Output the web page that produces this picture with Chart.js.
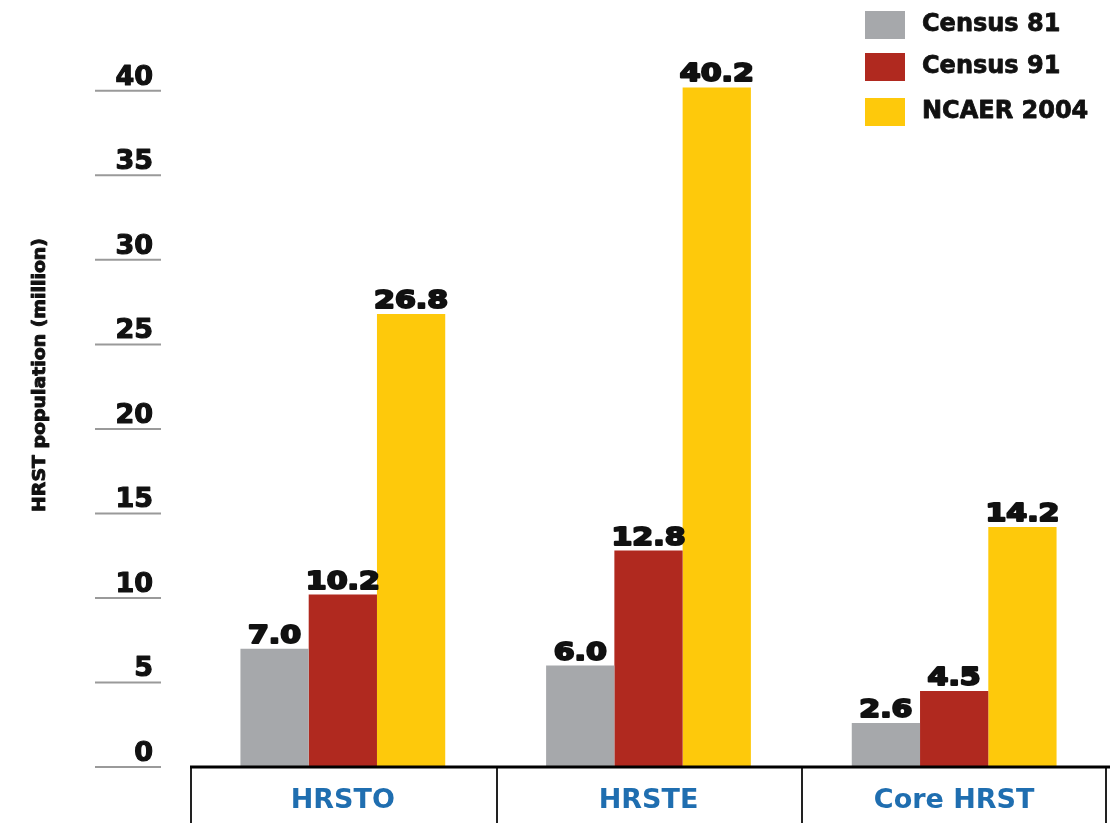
<!DOCTYPE html>
<html>
<head>
<meta charset="utf-8">
<script src="https://cdn.jsdelivr.net/npm/chart.js@4"></script>
<style>
html,body{margin:0;padding:0;background:#fff;}
canvas{display:block;}
</style>
</head>
<body>
<canvas id="c" width="1110" height="823"></canvas>
<script>
const categories = ["HRSTO", "HRSTE", "Core HRST"];
const seriesNames = ["Census 81", "Census 91", "NCAER 2004"];
const census81 = [7.0, 6.0, 2.6];
const census91 = [10.2, 12.8, 4.5];
const ncaer2004 = [26.8, 40.2, 14.2];
const yTicks = [0, 5, 10, 15, 20, 25, 30, 35, 40];
const yTitle = "HRST population (million)";
const colors = ["#a6a8ab", "#b0291f", "#fec90b"];

const FONT = "'DejaVu Sans', sans-serif";

function heavyText(ctx, text, x, y, w) {
  ctx.lineWidth = w;
  ctx.lineJoin = 'round';
  ctx.strokeStyle = ctx.fillStyle;
  ctx.strokeText(text, x, y);
  ctx.fillText(text, x, y);
}

const extras = {
  id: 'extras',
  afterDatasetsDraw(chart) {
    const ctx = chart.ctx;
    const area = chart.chartArea;
    const y = chart.scales.y;
    ctx.save();
    // y ticks with short lines
    yTicks.forEach(v => {
      const py = y.getPixelForValue(v);
      ctx.strokeStyle = '#9a9a9a';
      ctx.lineWidth = 2;
      ctx.beginPath();
      ctx.moveTo(95, py);
      ctx.lineTo(161, py);
      ctx.stroke();
      ctx.fillStyle = '#111';
      ctx.font = "bold 27px " + FONT;
      ctx.textAlign = 'right';
      ctx.textBaseline = 'alphabetic';
      heavyText(ctx, String(v), 153, py - 6, 1.2);
    });
    // y title
    ctx.save();
    ctx.translate(40, 375);
    ctx.rotate(-Math.PI / 2);
    ctx.font = "bold 21px 'DejaVu Sans Condensed', 'DejaVu Sans', sans-serif";
    ctx.fillStyle = '#111';
    ctx.textAlign = 'center';
    ctx.textBaseline = 'middle';
    ctx.scale(1.0, 0.85);
    heavyText(ctx, yTitle, 0, 0, 1);
    ctx.restore();

    // value labels
    chart.data.datasets.forEach((ds, di) => {
      const meta = chart.getDatasetMeta(di);
      meta.data.forEach((bar, i) => {
        const val = ds.data[i];
        ctx.save();
        ctx.translate(bar.x, bar.y - 6);
        ctx.scale(1.2, 1);
        ctx.font = "bold 25px " + FONT;
        ctx.fillStyle = '#111';
        ctx.textAlign = 'center';
        ctx.textBaseline = 'alphabetic';
        heavyText(ctx, val.toFixed(1), 0, 0, 2);
        ctx.restore();
      });
    });

    // category boxes
    const x = chart.scales.x;
    const base = y.getPixelForValue(0);
    const n = categories.length;
    const step = (area.right - area.left) / n;
    ctx.strokeStyle = '#222';
    ctx.lineWidth = 2;
    for (let i = 0; i <= n; i++) {
      const px = Math.round(area.left + step * i) + (i === n ? -1 : 1);
      ctx.beginPath();
      ctx.moveTo(px, base);
      ctx.lineTo(px, 823);
      ctx.stroke();
    }
    ctx.strokeStyle = '#000';
    ctx.lineWidth = 3;
    ctx.beginPath();
    ctx.moveTo(area.left, base);
    ctx.lineTo(1110, base);
    ctx.stroke();
    ctx.fillStyle = '#1f6eb0';
    ctx.font = "bold 27px " + FONT;
    ctx.textAlign = 'center';
    ctx.textBaseline = 'alphabetic';
    categories.forEach((c, i) => {
      ctx.fillText(c, x.getPixelForValue(i), 808);
    });

    // legend
    const rowsY = [11, 53, 98];
    chart.data.datasets.forEach((ds, di) => {
      ctx.fillStyle = ds.backgroundColor;
      ctx.fillRect(865, rowsY[di], 40, 28);
      ctx.fillStyle = '#111';
      ctx.font = "bold 24px " + FONT;
      ctx.textAlign = 'left';
      ctx.textBaseline = 'middle';
      heavyText(ctx, ds.label, 922, rowsY[di] + 14, 0.8);
    });
    ctx.restore();
  }
};

new Chart(document.getElementById('c'), {
  type: 'bar',
  data: {
    labels: categories,
    datasets: [
      { label: seriesNames[0], data: census81, backgroundColor: colors[0] },
      { label: seriesNames[1], data: census91, backgroundColor: colors[1] },
      { label: seriesNames[2], data: ncaer2004, backgroundColor: colors[2] }
    ]
  },
  options: {
    responsive: false,
    animation: false,
    layout: { padding: { left: 190, right: 3, top: 57, bottom: 56 } },
    datasets: { bar: { categoryPercentage: 0.67, barPercentage: 1.0 } },
    plugins: { legend: { display: false }, tooltip: { enabled: false } },
    scales: {
      x: { display: false },
      y: { display: false, min: 0, max: 42 }
    }
  },
  plugins: [extras]
});
</script>
</body>
</html>
